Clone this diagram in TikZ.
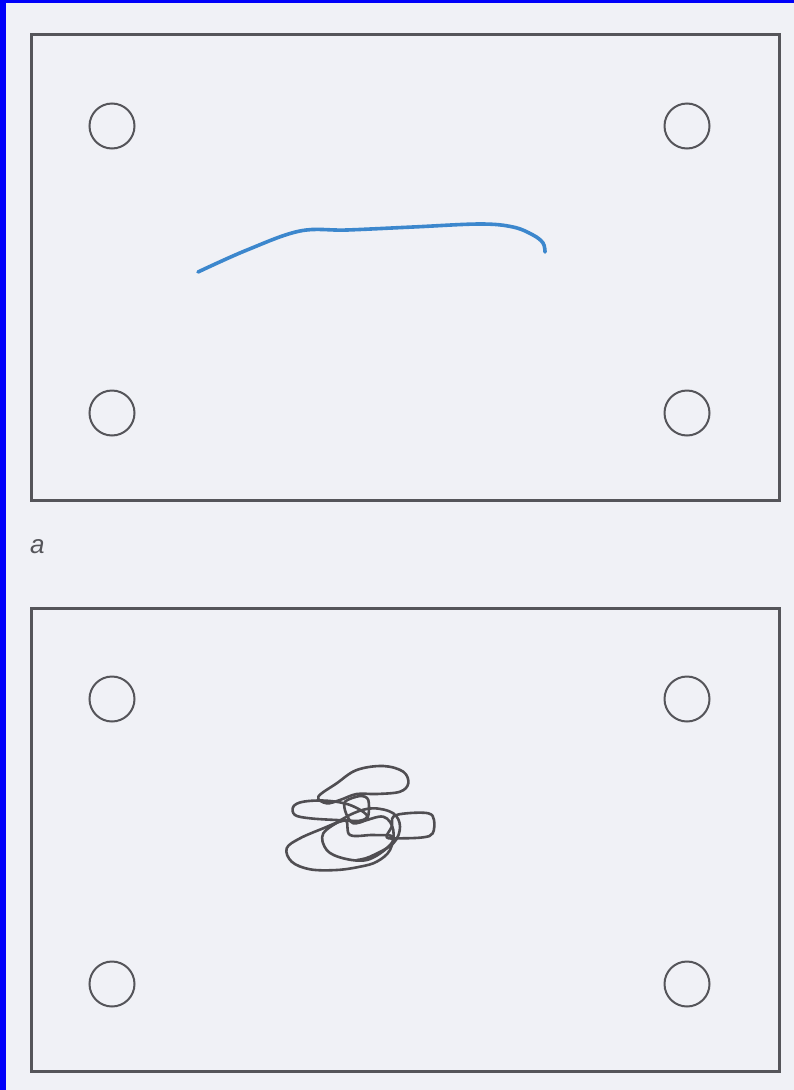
\documentclass[tikz,border=0pt]{standalone}
\usepackage{fontspec}
\newfontfamily\labelfont{Liberation Sans}
\definecolor{paper}{RGB}{240,241,246}
\definecolor{frameblue}{RGB}{0,0,250}
\definecolor{ink}{RGB}{85,85,90}
\definecolor{scrib}{RGB}{80,78,82}
\definecolor{pathblue}{RGB}{60,135,205}
\tikzset{
  plate/.style={draw=ink, line width=3pt},
  hole/.style={circle, draw=ink, line width=2pt, minimum size=45pt, inner sep=0pt},
  scribble/.style={draw=scrib, line width=2.6pt, line join=round},
  trace/.style={draw=pathblue, line width=3.6pt, line cap=round},
  panellabel/.style={text=ink, font=\labelfont\itshape\fontsize{26}{26}\selectfont, inner sep=0pt}
}
\begin{document}
\begin{tikzpicture}[x=1pt,y=-1pt]
\useasboundingbox (0,0) rectangle (794,1090);
\fill[paper] (0,0) rectangle (794,1090);
\fill[frameblue] (0,0) rectangle (6,1090);
\fill[frameblue] (0,0) rectangle (794,3);
% panel a
\draw[plate] (31,34) rectangle (779,500);
\node[hole] (a1) at (112,126) {};
\node[hole] (a2) at (687,126) {};
\node[hole] (a3) at (112,413) {};
\node[hole] (a4) at (687,413) {};
\draw[trace] plot[smooth, tension=0.6] coordinates {(198,272) (247,250) (300,231) (347,230) (413,227) (480,224) (513,227) (533,235) (543,243) (545,252)};
\node[panellabel, anchor=base west] (la) at (30,553) {a};
% panel b
\draw[plate] (31,608) rectangle (779,1071);
\node[hole] (b1) at (112,699) {};
\node[hole] (b2) at (687,699) {};
\node[hole] (b3) at (112,984) {};
\node[hole] (b4) at (687,984) {};
\draw[scribble] plot[smooth cycle, tension=0.6] coordinates {(318.3,796.7) (336.7,783.3) (356.7,770) (383.3,766) (403.3,771.7) (408.3,783.3) (400,791.7) (376.7,794) (356.7,794) (340,800) (326.7,803.3)};
\draw[scribble] plot[smooth cycle, tension=0.6] coordinates {(293.3,806.7) (303.3,801.7) (326.7,800.7) (350,805) (366.7,815) (360,820.7) (336.7,820) (310,818.3) (295,815)};
\draw[scribble] plot[smooth cycle, tension=0.6] coordinates {(393.3,816.7) (406.7,813.3) (428.3,813.3) (434,820) (432.7,833.3) (423.3,837.3) (400,838.3) (386.7,837.3) (391.7,826.7)};
\draw[scribble] plot[smooth cycle, tension=0.6] coordinates {(286.7,848.3) (300,838.3) (323.3,828.3) (343.3,820.7) (360,821.7) (383.3,816.7) (393.3,830) (390,850) (376.7,861.7) (360,866.7) (336.7,870) (310,869.3) (291.7,861.7)};
\draw[scribble] plot[smooth cycle, tension=0.5] coordinates {(345,801.7) (360,796) (368.3,800) (367.3,818.3) (353.3,823.3) (346,813.3)};
\draw[scribble] plot[smooth cycle, tension=0.6] coordinates {(323.3,833.3) (326.7,850) (343.3,858.3) (366.7,860) (386.7,848.3) (393.3,836.7) (373.3,835) (350,835) (345,820)};
\draw[scribble] plot[smooth, tension=0.6] coordinates {(330,826.7) (353.3,813.3) (373.3,808.3) (393.3,813.3) (400,826.7) (393.3,843.3) (370,856.7) (356.7,860)};
\end{tikzpicture}
\end{document}
